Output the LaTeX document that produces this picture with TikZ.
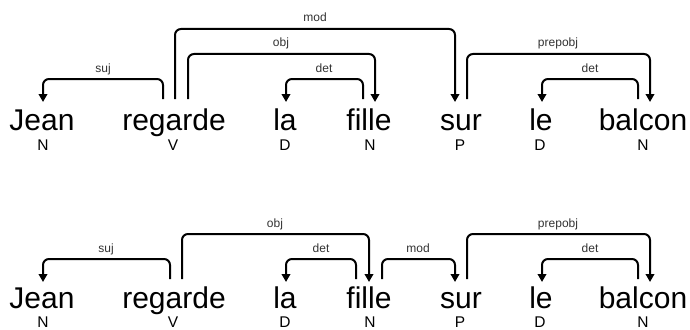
\documentclass[tikz,border=0pt]{standalone}
\usepackage{fontspec}
\setmainfont{Liberation Sans}
\usetikzlibrary{arrows.meta}
\definecolor{lblgrey}{HTML}{333333}
\tikzset{
  word/.style={anchor=base,inner sep=0pt,font=\fontsize{30}{30}\selectfont},
  tag/.style={anchor=base,inner sep=0pt,font=\fontsize{15.5}{16}\selectfont},
  rel/.style={anchor=base,inner sep=0pt,text=lblgrey,font=\fontsize{12}{12}\selectfont},
  dep/.style={line width=2pt,rounded corners=6pt,-{Triangle[width=8.5pt,length=8pt]}},
}
\begin{document}
\begin{tikzpicture}[x=1pt,y=-1pt]
\useasboundingbox (0,0) rectangle (690,329);
% ---------- row 1 ----------
\node[word] (j1) at (42,130) {Jean};
\node[word] (r1) at (174,130) {regarde};
\node[word] (la1) at (285,130) {la};
\node[word] (f1) at (369,130) {fille};
\node[word] (s1) at (461,130) {sur};
\node[word] (le1) at (541,130) {le};
\node[word] (b1) at (643,130) {balcon};
\node[tag] (tj1) at (43,150) {N};
\node[tag] (tr1) at (173,150) {V};
\node[tag] (tla1) at (285,150) {D};
\node[tag] (tf1) at (370,150) {N};
\node[tag] (ts1) at (460,150) {P};
\node[tag] (tle1) at (540,150) {D};
\node[tag] (tb1) at (643,150) {N};
% arc ends
\coordinate (r1a) at (163,99);  \coordinate (j1a) at (43,102);
\coordinate (r1b) at (175,99);  \coordinate (s1a) at (455,102);
\coordinate (r1c) at (188,99);  \coordinate (f1a) at (375,102);
\coordinate (f1b) at (363,99);  \coordinate (la1a) at (286,102);
\coordinate (s1b) at (467,99);  \coordinate (b1a) at (650,102);
\coordinate (b1b) at (638,99);  \coordinate (le1a) at (542,102);
\draw[dep] (r1a) -- ++(0,-20) -| (j1a);
\draw[dep] (r1b) -- ++(0,-70) -| (s1a);
\draw[dep] (r1c) -- ++(0,-45) -| (f1a);
\draw[dep] (f1b) -- ++(0,-20) -| (la1a);
\draw[dep] (s1b) -- ++(0,-45) -| (b1a);
\draw[dep] (b1b) -- ++(0,-20) -| (le1a);
\node[rel] (suj1) at (103,72) {suj};
\node[rel] (mod1) at (315,22) {mod};
\node[rel] (obj1) at (281,47) {obj};
\node[rel] (det1) at (324,72) {det};
\node[rel] (pob1) at (558,47) {prepobj};
\node[rel] (det2) at (590,72) {det};
% ---------- row 2 ----------
\node[word] (j2) at (42,308) {Jean};
\node[word] (r2) at (174,308) {regarde};
\node[word] (la2) at (285,308) {la};
\node[word] (f2) at (369,308) {fille};
\node[word] (s2) at (461,308) {sur};
\node[word] (le2) at (541,308) {le};
\node[word] (b2) at (643,308) {balcon};
\node[tag] (tj2) at (43,327) {N};
\node[tag] (tr2) at (173,327) {V};
\node[tag] (tla2) at (285,327) {D};
\node[tag] (tf2) at (370,327) {N};
\node[tag] (ts2) at (460,327) {P};
\node[tag] (tle2) at (540,327) {D};
\node[tag] (tb2) at (643,327) {N};
\coordinate (r2a) at (170,279); \coordinate (j2a) at (43,282);
\coordinate (r2b) at (182,279); \coordinate (f2a) at (369,282);
\coordinate (f2b) at (356,279); \coordinate (la2a) at (286,282);
\coordinate (f2c) at (382,279); \coordinate (s2a) at (455,282);
\coordinate (s2b) at (467,279); \coordinate (b2a) at (650,282);
\coordinate (b2b) at (638,279); \coordinate (le2a) at (542,282);
\draw[dep] (r2a) -- ++(0,-20) -| (j2a);
\draw[dep] (r2b) -- ++(0,-45) -| (f2a);
\draw[dep] (f2b) -- ++(0,-20) -| (la2a);
\draw[dep] (f2c) -- ++(0,-20) -| (s2a);
\draw[dep] (s2b) -- ++(0,-45) -| (b2a);
\draw[dep] (b2b) -- ++(0,-20) -| (le2a);
\node[rel] (suj2) at (106,252) {suj};
\node[rel] (obj2) at (275,227) {obj};
\node[rel] (det3) at (321,252) {det};
\node[rel] (mod2) at (418,252) {mod};
\node[rel] (pob2) at (558,227) {prepobj};
\node[rel] (det4) at (590,252) {det};
\end{tikzpicture}
\end{document}
